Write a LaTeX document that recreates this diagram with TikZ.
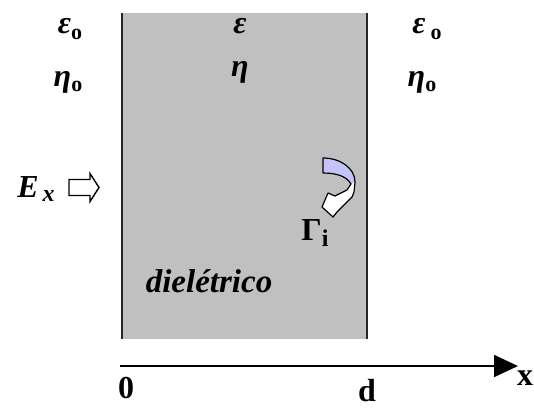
\documentclass[tikz,border=0pt]{standalone}
\usepackage{fontspec}
\setmainfont{Liberation Serif}
\usetikzlibrary{arrows.meta}
\definecolor{slab}{RGB}{192,192,192}
\definecolor{lav}{RGB}{196,196,248}
\tikzset{
  lbl/.style={font=\fontsize{32}{34}\selectfont\bfseries, inner sep=0pt},
  greek/.style={font=\fontsize{32}{34}\selectfont\bfseries\itshape, inner sep=0pt},
  wall/.style={line width=2.2pt, draw=black!85},
}
\newcommand{\sbo}{\raisebox{-0.35ex}{\fontsize{22}{24}\selectfont\bfseries\upshape o}}
\begin{document}
\begin{tikzpicture}[x=1pt,y=-1pt]
\useasboundingbox (0,0) rectangle (534,408);
% slab
\fill[slab] (122,13) rectangle (367,339);
\coordinate (lt) at (122,13); \coordinate (lb) at (122,339);
\coordinate (rt) at (367,13); \coordinate (rb) at (367,339);
\draw[wall] (lt) -- (lb);
\draw[wall] (rt) -- (rb);
% labels
\node[greek] (e1) at (70,29) {ε\sbo};
\node[greek] (h1) at (68,82) {η\sbo};
\node[greek] (e2) at (240,26) {ε};
\node[greek] (h2) at (240,72) {η};
\node[greek] (e3) at (427,29) {ε\,\sbo};
\node[greek] (h3) at (422,82) {η\sbo};
\node[font=\fontsize{32}{34}\selectfont\bfseries\itshape, inner sep=0pt] (ex) at (36,189) {E\raisebox{-0.3ex}{\fontsize{24}{26}\selectfont\,x}};
% hollow arrow
\coordinate (ha) at (69,187.5);
\draw[line width=1.4pt, fill=white] (ha) ++(0,-8) -- ++(21,0) -- ++(0,-6) -- ++(9,14) -- ++(-9,14) -- ++(0,-6) -- ++(-21,0) -- cycle;
% curved arrow
\fill[white]
  (323,158) .. controls (340,158) and (355,168) .. (355,182)
  -- (354,192) -- (352,197) -- (337,212) -- (333,217) -- (322,207)
  -- (328,193) -- (335,196) -- (347,190) -- (351,184)
  .. controls (347,177) and (338,173) .. (323,173) -- cycle;
\fill[lav]
  (323,158) .. controls (340,158) and (355,168) .. (355,182)
  -- (351,184) .. controls (347,177) and (338,173) .. (323,173) -- cycle;
\draw[line width=1.2pt, line join=round]
  (323,158) .. controls (340,158) and (355,168) .. (355,182)
  -- (354,192) -- (352,197) -- (337,212) -- (333,217) -- (322,207)
  -- (328,193) -- (335,196) -- (347,190) -- (351,184)
  .. controls (347,177) and (338,173) .. (323,173) -- cycle;
\node[lbl] (g) at (315,233) {Γ\raisebox{-0.45ex}{\fontsize{24}{26}\selectfont i}};
\node[font=\fontsize{33}{35}\selectfont\bfseries\itshape, inner sep=0pt] (die) at (209,281) {dielétrico};
% axis
\coordinate (a0) at (120,366);
\coordinate (a1) at (518,366);
\draw[line width=1.8pt, -{Triangle[length=24pt,width=22pt]}] (a0) -- (a1);
\node[lbl] (z) at (126,388) {0};
\node[lbl] (d) at (367,391) {d};
\node[lbl] (x) at (525,378) {x};
\end{tikzpicture}
\end{document}
